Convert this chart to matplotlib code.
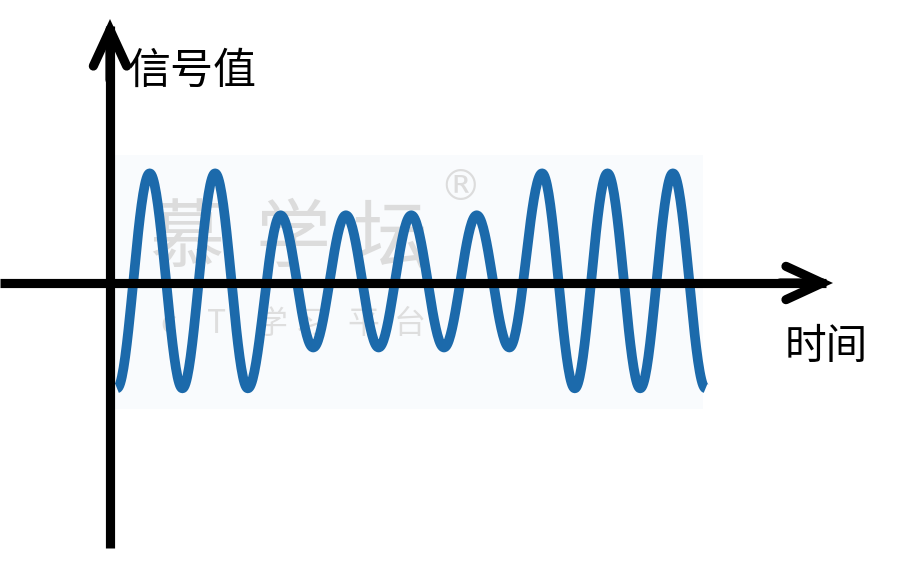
import numpy as np
import matplotlib
matplotlib.use("Agg")
import matplotlib.pyplot as plt
from matplotlib.patches import Rectangle

plt.rcParams['font.family'] = ['Noto Sans CJK SC', 'DejaVu Sans']

# Data: extremes of the signal (time in cycles, value relative to the time axis)
ext_t = [0.0, 0.5, 1.0, 1.5, 2.0, 2.5, 3.0, 3.5, 4.0, 4.5, 5.0, 5.5, 6.0,
         6.5, 7.0, 7.5, 8.0, 8.5, 9.0]
ext_v = [-0.98, 1.02, -0.98, 1.02, -0.98, 0.63, -0.60, 0.63, -0.60, 0.63, -0.60,
         0.63, -0.60, 1.02, -0.98, 1.02, -0.98, 1.02, -0.98]

y_label = "信号值"
x_label = "时间"
wm_main = ["慕", "学", "坛"]
wm_sub = ["c", "T", "学", "习", "平", "台"]

# pixel-like geometry of the drawing (900x572 canvas)
PX_PER_T = 65.4
PX_PER_V = 107.5
X0_PX = 117.0   # pixel position of t=0
Y0_PX = 283.0   # pixel position of v=0

def tx(px):
    return (px - X0_PX) / PX_PER_T

def vy(py):
    return (Y0_PX - py) / PX_PER_V

fig = plt.figure(figsize=(9, 5.72), dpi=100)
ax = fig.add_axes([0, 0, 1, 1])
ax.set_xlim(tx(0), tx(900))
ax.set_ylim(vy(572), vy(0))
ax.axis('off')

# faint background panel of the picture
ax.add_patch(Rectangle((tx(115), vy(409)), tx(703) - tx(115), vy(155) - vy(409),
                       facecolor='#f9fbfd', edgecolor='none', zorder=0))

# watermark
for ch, px in zip(wm_main, [187, 293, 390]):
    ax.text(tx(px), vy(240), ch, fontsize=54, color='#dcdcdc', ha='center',
            va='center', zorder=1)
ax.text(tx(460), vy(188), "®", fontsize=30, color='#dcdcdc', ha='center',
        va='center', zorder=1, family=['DejaVu Sans'])
for ch, px in zip(wm_sub, [168, 217, 271, 311, 363, 410]):
    ax.text(tx(px), vy(324), ch, fontsize=23, color='#dedede', ha='center',
            va='center', zorder=1)

# build the smooth wave between consecutive extremes (half-cosine segments)
xs, ys = [], []
for i in range(len(ext_t) - 1):
    t0, t1 = ext_t[i], ext_t[i + 1]
    v0, v1 = ext_v[i], ext_v[i + 1]
    s = np.linspace(0, 1, 40, endpoint=(i == len(ext_t) - 2))
    xs.append(t0 + (t1 - t0) * s)
    ys.append(v0 + (v1 - v0) * (1 - np.cos(np.pi * s)) / 2)
xs = np.concatenate(xs)
ys = np.concatenate(ys)
ax.plot(xs, ys, color='#1c6aab', lw=7.0, solid_capstyle='butt', zorder=2)

# axes: shafts (flat ends) and chevron heads (round caps, sharp tip)
LW = 6.6
ax.plot([tx(0), tx(826)], [0, 0], color='black', lw=LW, solid_capstyle='butt', zorder=3)
ax.plot([tx(110), tx(110)], [vy(548), vy(26)], color='black', lw=LW,
        solid_capstyle='butt', zorder=3)
arrow_kw = dict(arrowstyle='->,head_length=26,head_width=12', lw=LW,
                color='black', mutation_scale=1, shrinkA=0, shrinkB=0,
                capstyle='round', joinstyle='miter')
ax.annotate('', xy=(tx(833), 0), xytext=(tx(780), 0),
            arrowprops=arrow_kw, zorder=3)
ax.annotate('', xy=(tx(110), vy(19)), xytext=(tx(110), vy(80)),
            arrowprops=arrow_kw, zorder=3)

ax.text(tx(128), vy(72), y_label, fontsize=31, ha='left', va='center', zorder=4)
ax.text(tx(826), vy(348), x_label, fontsize=30, ha='center', va='center', zorder=4)

fig.savefig('out.png', dpi=100)
